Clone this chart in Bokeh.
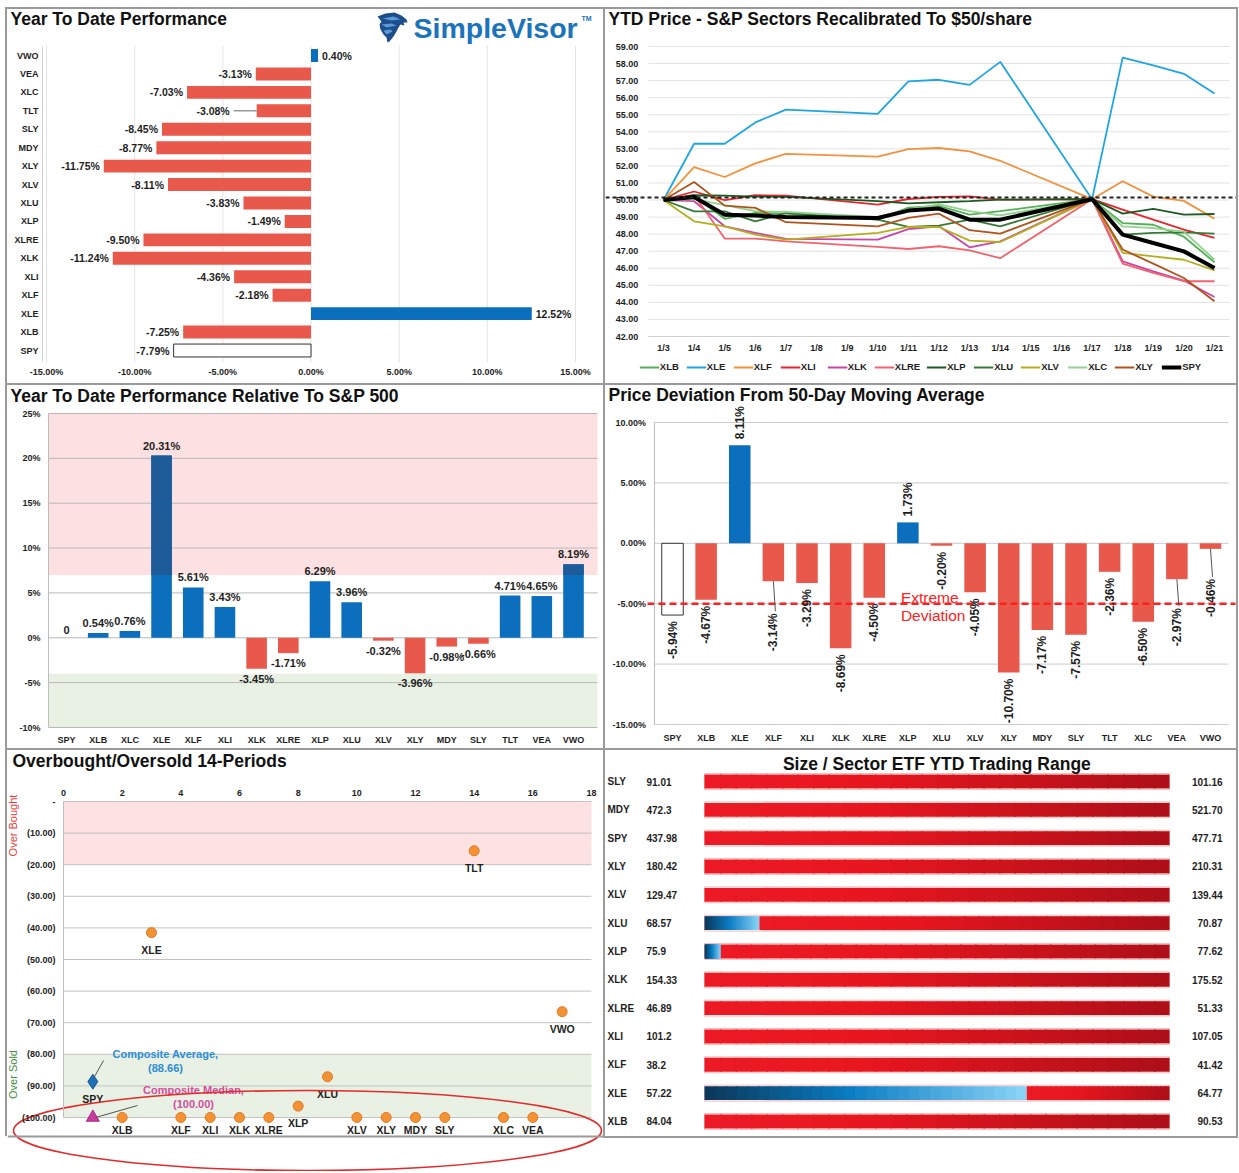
import math
from bokeh.plotting import figure
from bokeh.models import (Range1d, FixedTicker, PrintfTickFormatter, LinearAxis,
                          Legend, LegendItem, Div)
from bokeh.layouts import column, row
from bokeh.embed import file_html
from bokeh.resources import INLINE
from bokeh.core.properties import value

FONT = "Liberation Sans"

# ---------------- data ----------------
BENCH = "SPY"

# Panel 1: YTD performance
ytd_tickers = ["VWO", "VEA", "XLC", "TLT", "SLY", "MDY", "XLY", "XLV", "XLU", "XLP",
               "XLRE", "XLK", "XLI", "XLF", "XLE", "XLB", "SPY"]
ytd_values = [0.40, -3.13, -7.03, -3.08, -8.45, -8.77, -11.75, -8.11, -3.83, -1.49,
              -9.50, -11.24, -4.36, -2.18, 12.52, -7.25, -7.79]
ytd_ticks = [-15, -10, -5, 0, 5, 10, 15]

# Panel 2: YTD price recalibrated to $50
trade_dates = ["1/3", "1/4", "1/5", "1/6", "1/7", "1/8", "1/9", "1/10", "1/11", "1/12",
               "1/13", "1/14", "1/15", "1/16", "1/17", "1/18", "1/19", "1/20", "1/21"]
price_dates = ["1/3", "1/4", "1/5", "1/6", "1/7", "1/10", "1/11", "1/12", "1/13", "1/14",
               "1/17", "1/18", "1/19", "1/20", "1/21"]
xlb_px = [50, 50.2, 48.9, 49.25, 49.2, 48.85, 49.55, 49.65, 49.15, 49.35, 50.05, 48.65, 48.55, 47.85, 46.35]
xle_px = [50, 53.3, 53.3, 54.55, 55.3, 55.05, 56.95, 57.05, 56.75, 58.1, 50.05, 58.35, 57.9, 57.4, 56.25]
xlf_px = [50, 51.93, 51.35, 52.15, 52.7, 52.55, 52.98, 53.05, 52.85, 52.3, 50.05, 51.1, 50.2, 49.95, 48.9]
xli_px = [50, 50.5, 50.0, 50.28, 50.26, 49.73, 50.06, 50.18, 50.22, 50.02, 50.05, 49.44, 48.85, 48.27, 47.78]
xlk_px = [50, 49.93, 48.46, 48.07, 47.72, 47.68, 48.3, 48.46, 47.23, 47.58, 50.05, 46.41, 45.82, 45.28, 44.32]
xlre_px = [50, 50.3, 47.74, 47.74, 47.58, 47.25, 47.13, 47.29, 47.05, 46.59, 50.05, 46.27, 45.73, 45.24, 45.24]
xlp_px = [50, 50.28, 50.26, 50.2, 50.18, 49.93, 49.8, 49.87, 49.93, 50.02, 50.05, 49.2, 49.48, 49.14, 49.18]
xlu_px = [50, 49.34, 49.34, 48.75, 49.24, 48.85, 48.42, 48.5, 48.85, 48.46, 50.05, 47.97, 48.07, 48.1, 48.03]
xlv_px = [50, 48.75, 48.46, 47.97, 47.68, 48.07, 48.42, 48.42, 47.62, 47.54, 50.05, 46.9, 46.7, 46.5, 45.88]
xlc_px = [50, 50.05, 49.7, 49.35, 49.3, 49.0, 49.45, 49.75, 49.35, 49.1, 50.05, 48.45, 48.35, 48.15, 46.5]
xly_px = [50, 51.06, 49.67, 49.54, 48.7, 48.46, 48.95, 49.2, 48.23, 48.03, 50.05, 47.1, 46.27, 45.43, 44.07]
spy_px = [50, 50.18, 49.14, 49.09, 49.0, 48.95, 49.38, 49.5, 48.85, 48.85, 50.05, 47.97, 47.48, 46.99, 46.02]
price_names = ["XLB", "XLE", "XLF", "XLI", "XLK", "XLRE", "XLP", "XLU", "XLV", "XLC", "XLY", "SPY"]
price_base = 50.15
price_ticks = list(range(42, 60))

# Panel 3: YTD performance relative to S&P 500
rel_tickers = ["SPY", "XLB", "XLC", "XLE", "XLF", "XLI", "XLK", "XLRE", "XLP", "XLU",
               "XLV", "XLY", "MDY", "SLY", "TLT", "VEA", "VWO"]
rel_values = [0, 0.54, 0.76, 20.31, 5.61, 3.43, -3.45, -1.71, 6.29, 3.96,
              -0.32, -3.96, -0.98, -0.66, 4.71, 4.65, 8.19]
rel_upper = 7
rel_lower = -4
rel_ticks = [-10, -5, 0, 5, 10, 15, 20, 25]

# Panel 4: deviation from 50-day moving average
dev_tickers = ["SPY", "XLB", "XLE", "XLF", "XLI", "XLK", "XLRE", "XLP", "XLU", "XLV",
               "XLY", "MDY", "SLY", "TLT", "XLC", "VEA", "VWO"]
dev_values = [-5.94, -4.67, 8.11, -3.14, -3.29, -8.69, -4.50, 1.73, -0.20, -4.05,
              -10.70, -7.17, -7.57, -2.36, -6.50, -2.97, -0.46]
dev_extreme = -5
dev_ticks = [-15, -10, -5, 0, 5, 10]

# Panel 5: overbought / oversold
obos_tickers = ["SPY", "XLB", "XLE", "XLF", "XLI", "XLK", "XLRE", "XLP", "XLU", "XLV",
                "XLY", "MDY", "SLY", "TLT", "XLC", "VEA", "VWO"]
obos_x = [1, 2, 3, 4, 5, 6, 7, 8, 9, 10, 11, 12, 13, 14, 15, 16, 17]
obos_values = [-88.66, -100, -41.5, -100, -100, -100, -100, -96.4, -87.1, -100,
               -100, -100, -100, -15.6, -100, -100, -66.5]
composite_average = -88.66
composite_median = -100.0
obos_overbought = -20
obos_oversold = -80
obos_xticks = list(range(0, 19, 2))
obos_yticks = list(range(-100, 1, 10))

# Panel 6: YTD trading range
rng_tickers = ["SLY", "MDY", "SPY", "XLY", "XLV", "XLU", "XLP", "XLK", "XLRE", "XLI", "XLF", "XLE", "XLB"]
rng_low = [91.01, 472.3, 437.98, 180.42, 129.47, 68.57, 75.9, 154.33, 46.89, 101.2, 38.2, 57.22, 84.04]
rng_high = [101.16, 521.70, 477.71, 210.31, 139.44, 70.87, 77.62, 175.52, 51.33, 107.05, 41.42, 64.77, 90.53]
rng_position = [0, 0, 0, 0, 0, 0.118, 0.035, 0, 0, 0, 0, 0.693, 0]

# ---------------- styles ----------------
RED = "#e8594b"
BLUE = "#0b6fbd"
DARKBLUE = "#1d5c99"
BORDER = "#9a9a9a"
TXT = "#1e1e1e"
TITLE_SIZE = "17.5px"
price_colors = {"XLB": "#55b055", "XLE": "#1ea5e2", "XLF": "#f4913c", "XLI": "#e8252c",
                "XLK": "#c945a8", "XLRE": "#f3636e", "XLP": "#1b5a22", "XLU": "#357a36",
                "XLV": "#b4ad1c", "XLC": "#90d28e", "XLY": "#b0531d", "SPY": "#000000"}
# manual data-label displacements (pixels), as placed in the original chart
ytd_label_nudge = {"TLT": 23}
dev_label_nudge = {"XLF": 26, "VEA": 23, "VWO": 24}


class Geo:
    """Figure whose frame is the whole figure; maps figure pixels to data."""

    def __init__(self, W, H, xa, ya):
        self.W, self.H = W, H
        pa, va, pb, vb = xa
        self.kx = (vb - va) / (pb - pa)
        self.x0 = va - pa * self.kx
        qa, wa, qb, wb = ya
        self.ky = (wb - wa) / (qb - qa)
        self.y0 = wa - qa * self.ky

    def X(self, px):
        return self.x0 + px * self.kx

    def Y(self, py):
        return self.y0 + py * self.ky

    def ux(self, n):
        return n * self.kx

    def uy(self, n):
        return -n * self.ky

    def figure(self):
        p = figure(width=self.W, height=self.H,
                   x_range=Range1d(self.X(0), self.X(self.W)),
                   y_range=Range1d(self.Y(self.H), self.Y(0)),
                   min_border=0, min_border_left=0, min_border_right=0,
                   min_border_top=0, min_border_bottom=0,
                   x_axis_type=None, y_axis_type=None,
                   output_backend="svg", toolbar_location=None, title=None)
        p.outline_line_color = None
        p.background_fill_color = "white"
        p.border_fill_color = "white"
        return p


def add_axis(p, side, loc, ticks, standoff, size="9px", fmt=None, overrides=None,
             line_color=None, bounds=None):
    ax = LinearAxis(fixed_location=loc, ticker=FixedTicker(ticks=ticks))
    if fmt is not None:
        ax.formatter = PrintfTickFormatter(format=fmt)
    if overrides is not None:
        ax.major_label_overrides = overrides
    ax.major_tick_line_color = None
    ax.minor_tick_line_color = None
    ax.major_tick_out = 0
    ax.major_tick_in = 0
    ax.axis_line_color = line_color
    ax.axis_line_width = 1
    ax.major_label_text_font = FONT
    ax.major_label_text_font_size = size
    ax.major_label_text_font_style = "bold"
    ax.major_label_text_color = TXT
    ax.major_label_standoff = standoff
    if bounds is not None:
        ax.bounds = bounds
    p.add_layout(ax, side)
    return ax


def txt(p, **kw):
    base = dict(text_font=value(FONT), text_font_style="bold", text_color=TXT,
                text_baseline="middle", text_align="center", text_font_size="10px")
    base.update(kw)
    return p.text(**base)


def title(p, g, text, px, py, size=TITLE_SIZE, align="left"):
    txt(p, x=[g.X(px)], y=[g.Y(py)], text=[text], text_font_size=size, text_align=align,
        text_color="#111111")


def hgrid(p, g, ticks, px0, px1, color):
    p.segment(x0=[g.X(px0)] * len(ticks), x1=[g.X(px1)] * len(ticks), y0=ticks, y1=ticks,
              line_color=color, line_width=1)


LW, RW = 596, 631
H1, H2, H3, H6 = 374, 363, 421, 386

# ================= Panel 1 =================
g1 = Geo(LW, H1, (39, -15, 568, 15), (46, 0, 341, 16))
p1 = g1.figure()
idx1 = list(range(len(ytd_tickers)))
top1, bot1 = g1.Y(36), g1.Y(353)
p1.segment(x0=ytd_ticks, x1=ytd_ticks, y0=[top1] * len(ytd_ticks), y1=[bot1] * len(ytd_ticks),
           line_color="#e4e4e4", line_width=1)
p1.segment(x0=[g1.X(35)], x1=[g1.X(35)], y0=[top1], y1=[bot1], line_color="#d4d4d4", line_width=1)
nb = [i for i, t in enumerate(ytd_tickers) if t != BENCH]
p1.hbar(y=nb, left=0, right=[ytd_values[i] for i in nb], height=0.7,
        fill_color=[BLUE if ytd_values[i] >= 0 else RED for i in nb], line_color=None)
b1 = ytd_tickers.index(BENCH)
p1.hbar(y=[b1], left=0, right=[ytd_values[b1]], height=0.7, fill_color="white",
        line_color="#333333", line_width=1)
pos1 = [i for i in idx1 if ytd_values[i] >= 0]
neg1 = [i for i in idx1 if ytd_values[i] < 0]
txt(p1, x=[ytd_values[i] + g1.ux(4) for i in pos1], y=pos1,
    text=[f"{ytd_values[i]:.2f}%" for i in pos1], text_align="left", text_font_size="10.5px")
neg1_x = [ytd_values[i] - g1.ux(4 + ytd_label_nudge.get(ytd_tickers[i], 0)) for i in neg1]
txt(p1, x=neg1_x, y=neg1,
    text=[f"{ytd_values[i]:.2f}%" for i in neg1], text_align="right", text_font_size="10.5px")
for t, n in ytd_label_nudge.items():
    i = ytd_tickers.index(t)
    p1.segment(x0=[ytd_values[i] - g1.ux(n)], x1=[ytd_values[i]], y0=[i], y1=[i],
               line_color="#666666", line_width=1)
add_axis(p1, "below", bot1, ytd_ticks, 4, fmt="%.2f%%")
add_axis(p1, "left", g1.X(35), idx1, 4, overrides={i: t for i, t in enumerate(ytd_tickers)})
title(p1, g1, "Year To Date Performance", 3, 9)
txt(p1, x=[g1.X(406)], y=[g1.Y(18)], text=["SimpleVisor"], text_font_size="28.5px",
    text_color="#1b74bb", text_align="left")
txt(p1, x=[g1.X(574)], y=[g1.Y(9)], text=["TM"], text_font_size="7px", text_color="#1b74bb",
    text_align="left")
eagle = [(0, 4), (8, 1), (17, 0), (24, 3), (29, 7), (30, 10), (26, 10), (27, 13), (23, 12),
         (21, 15), (19, 19), (16, 24), (12, 29), (10, 30), (9, 25), (6, 22), (3, 17), (2, 12), (4, 9)]
p1.patch([g1.X(370 + a) for a, b in eagle], [g1.Y(3 + b) for a, b in eagle],
         fill_color="#1d4e8c", line_color=None)
for streak in ([(5, 6), (16, 4), (23, 7), (14, 8)], [(4, 12), (14, 11), (19, 13), (9, 15)],
               [(6, 18), (13, 17), (15, 19), (9, 22)]):
    p1.patch([g1.X(370 + a) for a, b in streak], [g1.Y(3 + b) for a, b in streak],
             fill_color="#5c9bd8", line_color=None)

# ================= Panel 2 =================
g2 = Geo(RW, H1, (58, 0, 609, 18), (37, 59, 327, 42))
p2 = g2.figure()
hgrid(p2, g2, price_ticks, 43, 624, "#e2e2e2")
px_x = [trade_dates.index(d) for d in price_dates]
price_series = [xlb_px, xle_px, xlf_px, xli_px, xlk_px, xlre_px, xlp_px, xlu_px,
                xlv_px, xlc_px, xly_px, spy_px]
items = []
for name, vals in zip(price_names, price_series):
    w = 4 if name == BENCH else 1.8
    r = p2.line(px_x, vals, line_color=price_colors[name], line_width=w)
    items.append(LegendItem(label=name, renderers=[r]))
p2.segment(x0=[g2.X(0)], x1=[g2.X(RW)], y0=[price_base], y1=[price_base],
           line_color="#222222", line_dash="4 3", line_width=2)
add_axis(p2, "below", 42, list(range(len(trade_dates))), 6,
         overrides={i: d for i, d in enumerate(trade_dates)}, line_color="#cfcfcf",
         bounds=(-0.5, 18.5))
add_axis(p2, "left", -0.5, price_ticks, 10, fmt="%.2f")
leg = Legend(items=items, orientation="horizontal", location="bottom", glyph_width=20,
             glyph_height=8, label_standoff=1, spacing=6, padding=0, margin=11,
             border_line_color=None, background_fill_alpha=0, label_text_font=FONT,
             label_text_font_size="9.5px", label_text_font_style="bold",
             label_text_color=TXT, label_height=10)
p2.add_layout(leg)
title(p2, g2, "YTD Price - S&P Sectors Recalibrated To $50/share", 3, 9)

# ================= Panel 3 =================
g3 = Geo(LW, H2, (59, 0, 566, 16), (28, 25, 342, -10))
p3 = g3.figure()
l3, r3 = g3.X(41), g3.X(590)
p3.quad(left=[l3], right=[r3], bottom=[rel_upper], top=[rel_ticks[-1]], fill_color="#fde1e2",
        line_color=None)
p3.quad(left=[l3], right=[r3], bottom=[rel_ticks[0]], top=[rel_lower], fill_color="#e9f1e4",
        line_color=None)
hgrid(p3, g3, rel_ticks, 41, 590, "#b8b8b8")
idx3 = list(range(len(rel_tickers)))
p3.vbar(x=idx3, bottom=0, top=rel_values, width=0.65,
        fill_color=[BLUE if v >= 0 else RED for v in rel_values], line_color=None)
hi3 = [i for i in idx3 if rel_values[i] > rel_upper]
p3.vbar(x=hi3, bottom=rel_upper, top=[rel_values[i] for i in hi3], width=0.65,
        fill_color=DARKBLUE, line_color=None)
pos3 = [i for i in idx3 if rel_values[i] >= 0]
neg3 = [i for i in idx3 if rel_values[i] < 0]


def fmt3(v):
    return "0" if v == 0 else f"{v:.2f}%"


txt(p3, x=pos3, y=[rel_values[i] + g3.uy(4) for i in pos3],
    text=[fmt3(rel_values[i]) for i in pos3], text_baseline="bottom", text_font_size="11px")
txt(p3, x=neg3, y=[rel_values[i] - g3.uy(4) for i in neg3],
    text=[fmt3(rel_values[i]) for i in neg3], text_baseline="top", text_font_size="11px")
add_axis(p3, "below", -10, idx3, 7, overrides={i: t for i, t in enumerate(rel_tickers)})
add_axis(p3, "left", l3, rel_ticks, 8, fmt="%d%%", line_color="#bdbdbd",
         bounds=(rel_ticks[0], rel_ticks[-1]))
title(p3, g3, "Year To Date Performance Relative To S&P 500", 3, 10)

# ================= Panel 4 =================
g4 = Geo(RW, H2, (67, 0, 605, 16), (37, 10, 339, -15))
p4 = g4.figure()
hgrid(p4, g4, dev_ticks, 48.5, 623, "#cccccc")
idx4 = list(range(len(dev_tickers)))
nb4 = [i for i, t in enumerate(dev_tickers) if t != BENCH]
p4.vbar(x=nb4, bottom=0, top=[dev_values[i] for i in nb4], width=0.64,
        fill_color=[BLUE if dev_values[i] >= 0 else RED for i in nb4], line_color=None)
b4 = dev_tickers.index(BENCH)
p4.vbar(x=[b4], bottom=0, top=[dev_values[b4]], width=0.64, fill_color="white",
        line_color="#333333", line_width=1)
p4.segment(x0=[g4.X(42)], x1=[g4.X(630)], y0=[dev_extreme], y1=[dev_extreme],
           line_color="#ff1f1f", line_dash="7 4", line_width=2.5)
pos4 = [i for i in idx4 if dev_values[i] >= 0]
neg4 = [i for i in idx4 if dev_values[i] < 0]
for t, n in dev_label_nudge.items():
    i = dev_tickers.index(t)
    p4.segment(x0=[i], x1=[i + g4.ux(2)], y0=[dev_values[i]], y1=[dev_values[i] - g4.uy(n + 4)],
               line_color="#555555", line_width=1)
txt(p4, x=pos4, y=[dev_values[i] + g4.uy(6) for i in pos4],
    text=[f"{dev_values[i]:.2f}%" for i in pos4], text_align="left", angle=math.pi / 2,
    text_font_size="12px")
txt(p4, x=neg4, y=[dev_values[i] - g4.uy(6 + dev_label_nudge.get(dev_tickers[i], 0)) for i in neg4],
    text=[f"{dev_values[i]:.2f}%" for i in neg4], text_align="right", angle=math.pi / 2,
    text_font_size="12px")
xp = dev_tickers.index("XLP") - g4.ux(7)
txt(p4, x=[xp, xp], y=[dev_extreme + g4.uy(6), dev_extreme - g4.uy(12)],
    text=["Extreme", "Deviation"], text_align="left", text_font_style="normal",
    text_font_size="15.5px", text_color="#ff2020")
add_axis(p4, "below", -15, idx4, 8, overrides={i: t for i, t in enumerate(dev_tickers)})
add_axis(p4, "left", g4.X(48.5), dev_ticks, 8, fmt="%.2f%%", line_color="#bdbdbd",
         bounds=(dev_ticks[0], dev_ticks[-1]))
title(p4, g4, "Price Deviation From 50-Day Moving Average", 3, 9)

# ================= Panel 5 =================
g5 = Geo(LW, H3, (56, 0, 584, 18), (51, 0, 367, -100))
p5 = g5.figure()
p5.quad(left=[0], right=[obos_xticks[-1]], top=[0], bottom=[obos_overbought],
        fill_color="#fde1e3", line_color=None)
p5.quad(left=[0], right=[obos_xticks[-1]], top=[obos_oversold], bottom=[obos_yticks[0]],
        fill_color="#e8f1e3", line_color=None)
hgrid(p5, g5, obos_yticks, 56, 584, "#c2c2c2")
bi = obos_tickers.index(BENCH)
others = [i for i in range(len(obos_tickers)) if i != bi]
p5.scatter(x=[obos_x[i] for i in others], y=[obos_values[i] for i in others], marker="circle",
           size=10, fill_color="#f39135", line_color="#e07a20")
p5.scatter(x=[obos_x[bi]], y=[composite_average], marker="diamond", size=15,
           fill_color="#1f6fb8", line_color="#165894")
p5.scatter(x=[obos_x[bi]], y=[composite_median], marker="triangle", size=13,
           fill_color="#c93c9d", line_color="#a82d82")
label_floor = g5.Y(379)
txt(p5, x=obos_x, y=[max(v - g5.uy(17), label_floor) for v in obos_values], text=obos_tickers,
    text_font_size="10.5px")
p5.segment(x0=[g5.X(96)], y0=[g5.Y(310)], x1=[g5.X(86)], y1=[g5.Y(328)], line_color="#555555",
           line_width=1)
p5.segment(x0=[g5.X(130)], y0=[g5.Y(355)], x1=[g5.X(88)], y1=[g5.Y(367)], line_color="#555555",
           line_width=1)
txt(p5, x=[g5.X(158), g5.X(158)], y=[g5.Y(303), g5.Y(317)],
    text=["Composite Average,", f"({abs(composite_average):.2f})"], text_color="#2b8dd6",
    text_font_size="11px")
txt(p5, x=[g5.X(186), g5.X(186)], y=[g5.Y(339), g5.Y(353)],
    text=["Composite Median,", f"({abs(composite_median):.2f})"], text_color="#d24e9f",
    text_font_size="11px")
add_axis(p5, "above", 0, obos_xticks, 6)
add_axis(p5, "left", 0, obos_yticks, 8, line_color="#bdbdbd", bounds=(-100, 0),
         overrides={v: ("-" if v == 0 else f"({abs(v):.2f})") for v in obos_yticks})
txt(p5, x=[g5.X(5)], y=[g5.Y(75)], text=["Over Bought"], angle=math.pi / 2,
    text_font_style="normal", text_font_size="11px", text_color="#e83a3a")
txt(p5, x=[g5.X(5)], y=[g5.Y(324)], text=["Over Sold"], angle=math.pi / 2,
    text_font_style="normal", text_font_size="11px", text_color="#3d8c3d")
p5.ellipse(x=[g5.X(300)], y=[g5.Y(380)], width=[g5.ux(588)], height=[g5.uy(80)],
           fill_color=None, line_color="#e42a2a", line_width=1.6)
p5.segment(x0=[g5.X(0)], x1=[g5.X(LW)], y0=[g5.Y(386)], y1=[g5.Y(386)], line_color=BORDER,
           line_width=2)
title(p5, g5, "Overbought/Oversold 14-Periods", 5, 10)

# ================= Panel 6 =================
g6 = Geo(RW, H6, (99, 0, 564, 1), (31, 0, 59.33, 1))
p6 = g6.figure()


def hex2rgb(h):
    h = h.lstrip("#")
    return [int(h[i:i + 2], 16) for i in (0, 2, 4)]


def mix(stops, t):
    for (t0, c0), (t1, c1) in zip(stops[:-1], stops[1:]):
        if t <= t1:
            f = 0 if t1 == t0 else (t - t0) / (t1 - t0)
            a, b = hex2rgb(c0), hex2rgb(c1)
            return "#%02x%02x%02x" % tuple(int(round(a[k] + (b[k] - a[k]) * f)) for k in range(3))
    return stops[-1][1]


red_stops = [(0, "#ec1a24"), (0.35, "#e8161f"), (1, "#ae0f18")]
blue_stops = [(0, "#0b3657"), (0.45, "#0a7cc2"), (1, "#8bd5f7")]
NSEG = 30
overlap = g6.ux(1.5)
ridx = list(range(len(rng_tickers)))
p6.hbar(y=ridx, left=0, right=1, height=0.49 + g6.ux(0) + abs(1 / 28.33) * 2,
        fill_color=None, line_color="#f6b8b8", line_width=1)
ql, qr, qy, qc = [], [], [], []
for i, frac in enumerate(rng_position):
    for (s, e, stops) in ((0, frac, blue_stops), (frac, 1, red_stops)):
        if e - s <= 0:
            continue
        for k in range(NSEG):
            ql.append(s + (e - s) * k / NSEG)
            qr.append(min(e, s + (e - s) * (k + 1) / NSEG + overlap))
            qy.append(i)
            qc.append(mix(stops, (k + 0.5) / NSEG))
p6.hbar(y=qy, left=ql, right=qr, height=0.49, fill_color=qc, line_color=None)
txt(p6, x=[g6.X(2)] * len(ridx), y=ridx, text=rng_tickers, text_align="left",
    text_font_size="10px")
txt(p6, x=[g6.X(41)] * len(ridx), y=ridx, text=[f"{v:g}" for v in rng_low], text_align="left",
    text_font_size="10px")
txt(p6, x=[g6.X(617)] * len(ridx), y=ridx, text=[f"{v:.2f}" for v in rng_high], text_align="right",
    text_font_size="10px")
txt(p6, x=[0.5], y=[g6.Y(13)], text=["Size / Sector ETF YTD Trading Range"],
    text_font_size=TITLE_SIZE, text_color="#111111")


# ================= layout =================
def vdiv(h):
    return Div(width=2, height=h, margin=0, styles={"background-color": BORDER})


def hdiv(w):
    return Div(width=w, height=2, margin=0, styles={"background-color": BORDER})


FULLW = 2 + LW + 2 + RW + 2
layout = column(
    hdiv(FULLW),
    row(vdiv(H1), p1, vdiv(H1), p2, vdiv(H1), spacing=0),
    hdiv(FULLW),
    row(vdiv(H2), p3, vdiv(H2), p4, vdiv(H2), spacing=0),
    hdiv(FULLW),
    row(vdiv(386), p5, vdiv(H6 + 2), column(p6, hdiv(RW), spacing=0), vdiv(H6 + 2), spacing=0),
    spacing=0, margin=(7, 0, 0, 5),
)

open("out.html", "w").write(file_html(layout, INLINE))
